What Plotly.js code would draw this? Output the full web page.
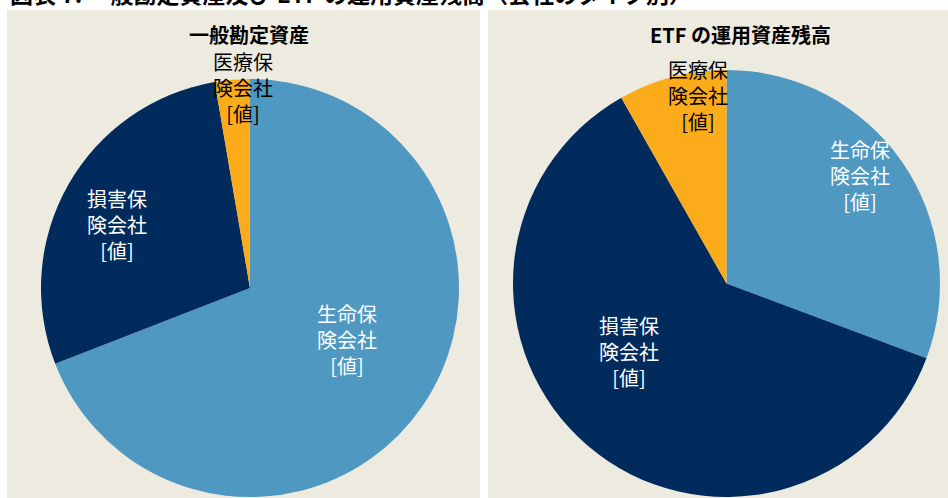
<!DOCTYPE html>
<html lang="ja">
<head>
    <meta charset="UTF-8">
    <title>一般勘定資産及び ETF の運用資産残高</title>
    <script src="https://cdn.plot.ly/plotly-3.0.1.min.js"></script>
    <style>
        html, body { margin: 0; padding: 0; background: #ffffff; }
        #chart { width: 948px; height: 498px; }
    </style>
</head>
<body>
    <div id="chart"></div>

    <script>
        // data (shares in %)
        const categories = ['生命保険会社', '損害保険会社', '医療保険会社'];
        const sliceLabels = ['生命保<br>険会社<br>[値]', '損害保<br>険会社<br>[値]', '医療保<br>険会社<br>[値]'];
        const generalAccount = [69.1, 28.2, 2.7];
        const etfAssets = [30.7, 61.1, 8.2];
        const panelTitles = ['一般勘定資産', 'ETF の運用資産残高'];
        const mainTitle = '図表 7: 一般勘定資産及び ETF の運用資産残高（会社のタイプ別）';

        // layout / style
        const W = 948, H = 498;
        const sliceColors = ['#4E98C1', '#002B5C', '#FCAB1A'];
        const labelColors = ['#ffffff', '#ffffff', '#000000'];
        const FONT = '"Noto Sans CJK JP", "Noto Sans", sans-serif';

        const pies = [
            { values: generalAccount, cx: 250, cy: 288, r: 209, titleX: 249,
              labelR: [0.53, 0.70, 0.96], nudge: [[6, -11], [-6, 9], [10, -1]] },
            { values: etfAssets, cx: 726.5, cy: 283.5, r: 213.5, titleX: 740,
              labelR: [0.80, 0.56, 0.89], nudge: [[-7, -11], [-20, -23], [20, -4]] }
        ];

        const traces = [];
        const annotations = [];

        pies.forEach((p, i) => {
            traces.push({
                type: 'pie',
                values: p.values,
                labels: categories,
                sort: false,
                direction: 'clockwise',
                rotation: 0,
                textinfo: 'none',
                hoverinfo: 'label+percent',
                showlegend: false,
                marker: { colors: sliceColors, line: { width: 0 } },
                domain: {
                    x: [(p.cx - p.r) / W, (p.cx + p.r) / W],
                    y: [1 - (p.cy + p.r) / H, 1 - (p.cy - p.r) / H]
                }
            });

            // slice labels placed on each slice's mid angle
            const total = p.values.reduce((a, b) => a + b, 0);
            let cum = 0;
            p.values.forEach((v, k) => {
                const mid = (cum + v / 2) / total * 2 * Math.PI;
                cum += v;
                const rr = p.labelR[k] * p.r;
                const px = p.cx + rr * Math.sin(mid) + p.nudge[k][0];
                const py = p.cy - rr * Math.cos(mid) + p.nudge[k][1];
                annotations.push({
                    xref: 'paper', yref: 'paper',
                    x: px / W, y: 1 - py / H,
                    xanchor: 'center', yanchor: 'middle',
                    text: sliceLabels[k],
                    showarrow: false,
                    align: 'center',
                    font: { family: FONT, size: 20, color: labelColors[k] }
                });
            });

            annotations.push({
                xref: 'paper', yref: 'paper',
                x: p.titleX / W, y: 1 - 35 / H,
                xanchor: 'center', yanchor: 'middle',
                text: '<b>' + panelTitles[i] + '</b>',
                showarrow: false,
                font: { family: FONT, size: 20, color: '#000000' }
            });
        });

        // page title, cut off at the top edge
        annotations.push({
            xref: 'paper', yref: 'paper',
            x: 8 / W, y: 1 - 12 / H,
            xanchor: 'left', yanchor: 'bottom',
            text: '<b>' + mainTitle + '</b>',
            showarrow: false,
            font: { family: FONT, size: 23, color: '#000000' }
        });

        const panel = (x0, x1) => ({
            type: 'rect', xref: 'paper', yref: 'paper', layer: 'below',
            x0: x0 / W, x1: x1 / W, y0: 0, y1: 1 - 10 / H,
            fillcolor: '#EDEAE0', line: { width: 0 }
        });

        const layout = {
            width: W,
            height: H,
            margin: { l: 0, r: 0, t: 0, b: 0 },
            paper_bgcolor: '#ffffff',
            shapes: [panel(7, 480), panel(488, 948)],
            annotations: annotations
        };

        Plotly.newPlot('chart', traces, layout, { displayModeBar: false, responsive: false });
    </script>
</body>
</html>
